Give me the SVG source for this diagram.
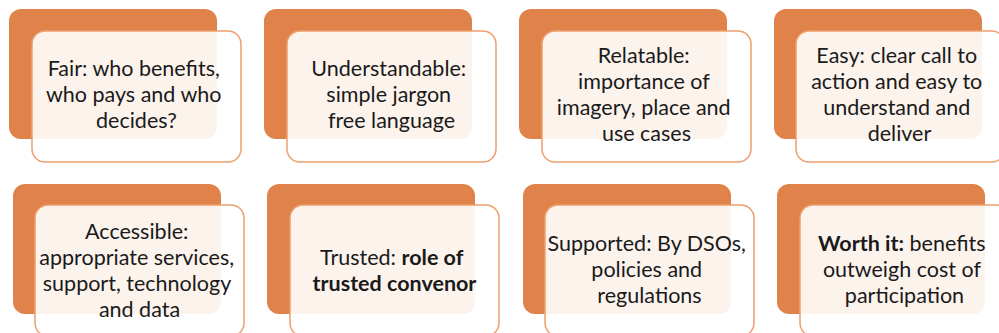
<svg xmlns="http://www.w3.org/2000/svg" width="999" height="333" viewBox="0 0 999 333">
  <style>
    .back { fill: #E0834A; }
    .front { fill: #ffffff; fill-opacity: 0.9; stroke: #EE9F6E; stroke-width: 1.5; }
    .label { font-family: "Lato", "Liberation Sans", sans-serif; font-size: 21.5px; fill: #1a1a1a; text-anchor: middle; }
    .b { font-weight: bold; }
  </style>
  <rect width="999" height="333" fill="#ffffff"/>

  <!-- top row -->
  <g id="fair">
    <rect class="back" x="9" y="9" width="208" height="130" rx="12"/>
    <rect class="front" x="32" y="31" width="209" height="131" rx="13"/>
    <text class="label">
      <tspan x="136.5" y="76">Fair: who benefits,</tspan>
      <tspan x="136.5" y="102">who pays and who</tspan>
      <tspan x="136.5" y="128">decides?</tspan>
    </text>
  </g>
  <g id="understandable">
    <rect class="back" x="264" y="9" width="208" height="130" rx="12"/>
    <rect class="front" x="287" y="31" width="209" height="131" rx="13"/>
    <text class="label">
      <tspan x="391.5" y="76">Understandable:</tspan>
      <tspan x="391.5" y="102">simple jargon</tspan>
      <tspan x="391.5" y="128">free language</tspan>
    </text>
  </g>
  <g id="relatable">
    <rect class="back" x="519" y="9" width="208" height="130" rx="12"/>
    <rect class="front" x="542" y="31" width="209" height="131" rx="13"/>
    <text class="label">
      <tspan x="646.5" y="63">Relatable:</tspan>
      <tspan x="646.5" y="89">importance of</tspan>
      <tspan x="646.5" y="115">imagery, place and</tspan>
      <tspan x="646.5" y="141">use cases</tspan>
    </text>
  </g>
  <g id="easy">
    <rect class="back" x="774" y="9" width="208" height="130" rx="12"/>
    <rect class="front" x="796" y="31" width="209" height="131" rx="13"/>
    <text class="label">
      <tspan x="899.5" y="63">Easy: clear call to</tspan>
      <tspan x="899.5" y="89">action and easy to</tspan>
      <tspan x="899.5" y="115">understand and</tspan>
      <tspan x="899.5" y="141">deliver</tspan>
    </text>
  </g>

  <!-- bottom row -->
  <g id="accessible">
    <rect class="back" x="13" y="184" width="208" height="130" rx="12"/>
    <rect class="front" x="35" y="205" width="209" height="131" rx="13"/>
    <text class="label">
      <tspan x="139.5" y="239">Accessible:</tspan>
      <tspan x="139.5" y="265">appropriate services,</tspan>
      <tspan x="139.5" y="291">support, technology</tspan>
      <tspan x="139.5" y="317">and data</tspan>
    </text>
  </g>
  <g id="trusted">
    <rect class="back" x="267" y="184" width="208" height="130" rx="12"/>
    <rect class="front" x="290" y="205" width="209" height="131" rx="13"/>
    <text class="label">
      <tspan x="394.5" y="265">Trusted: <tspan class="b">role of</tspan></tspan>
      <tspan x="394.5" y="291" class="b">trusted convenor</tspan>
    </text>
  </g>
  <g id="supported">
    <rect class="back" x="523" y="184" width="208" height="130" rx="12"/>
    <rect class="front" x="545" y="205" width="209" height="131" rx="13"/>
    <text class="label">
      <tspan x="649.5" y="251">Supported: By DSOs,</tspan>
      <tspan x="649.5" y="277">policies and</tspan>
      <tspan x="649.5" y="303">regulations</tspan>
    </text>
  </g>
  <g id="worth-it">
    <rect class="back" x="777" y="184" width="208" height="130" rx="12"/>
    <rect class="front" x="800" y="205" width="209" height="131" rx="13"/>
    <text class="label">
      <tspan x="904.5" y="251"><tspan class="b">Worth it:</tspan> benefits</tspan>
      <tspan x="904.5" y="277">outweigh cost of</tspan>
      <tspan x="904.5" y="303">participation</tspan>
    </text>
  </g>
</svg>
